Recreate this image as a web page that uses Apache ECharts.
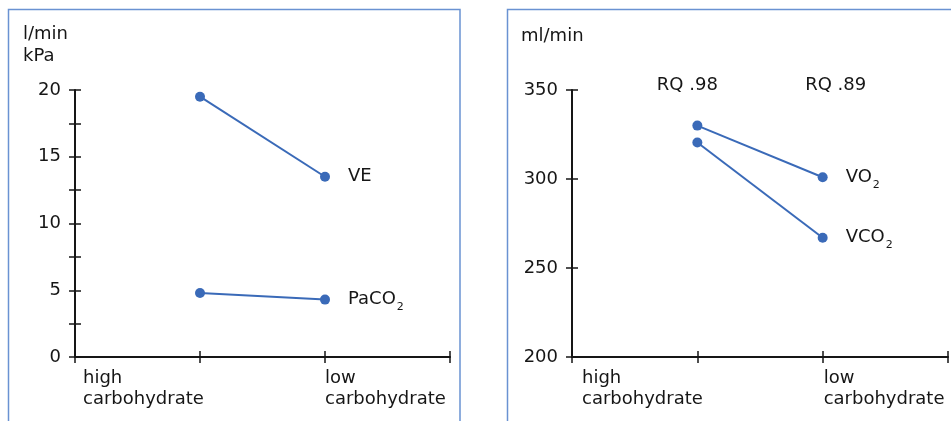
<!DOCTYPE html>
<html>
<head>
<meta charset="utf-8">
<script src="https://cdn.jsdelivr.net/npm/echarts@6/dist/echarts.min.js"></script>
<style>
  html, body { margin: 0; padding: 0; background: #fff; }
  #chart { width: 951px; height: 421px; }
</style>
</head>
<body>
<div id="chart"></div>
<script>
// x positions of the two diets on a 0..3 value axis
const dietX = [1, 2]
const dietLabels = { 0: 'high\ncarbohydrate', 2: 'low\ncarbohydrate' }

// left panel: l/min and kPa
const veValues = [19.5, 13.5]
const paco2Values = [4.8, 4.3]
const leftTicks = { min: 0, max: 20, interval: 5 }

// right panel: ml/min
const vo2Values = [330, 301]
const vco2Values = [320.5, 267]
const rightTicks = { min: 200, max: 350, interval: 50 }
const rqLabels = ['RQ .98', 'RQ .89']

const FONT = 'DejaVu Sans'
const TEXT = '#161616'
const BLUE = '#3a6ab8'
const FS = 18

const chart = echarts.init(document.getElementById('chart'), null, { renderer: 'canvas' })

const grids = [
	{ left: 75, top: 90, width: 375, height: 267 },
	{ left: 572, top: 90, width: 376, height: 267 }
]

function xAxes(gridIndex, pad) {
	const base = {
		gridIndex,
		type: 'value',
		position: 'bottom',
		min: 0,
		max: 3,
		interval: 1,
		splitLine: { show: false }
	}
	return [
		Object.assign({}, base, {
			axisLine: { onZero: false, lineStyle: { color: TEXT, width: 2 } },
			axisTick: { show: true, length: 6, lineStyle: { color: TEXT, width: 1.5 } },
			axisLabel: {
				show: true,
				margin: 11,
				align: 'left',
				verticalAlign: 'top',
				formatter: v => dietLabels[v] ? (v === 0 ? '{h|' : '{l|') + dietLabels[v] + '}' : '',
				rich: {
					h: { fontFamily: FONT, fontSize: FS, color: TEXT, lineHeight: 21, padding: [0, 0, 0, pad[0]] },
					l: { fontFamily: FONT, fontSize: FS, color: TEXT, lineHeight: 21, padding: [0, 0, 0, pad[1]] }
				}
			}
		}),
		Object.assign({}, base, {
			axisLine: { show: false, onZero: false },
			axisTick: { show: true, inside: true, length: 6, lineStyle: { color: TEXT, width: 1.5 } },
			axisLabel: { show: false }
		})
	]
}

function yAxes(gridIndex, ticks, minor) {
	const base = Object.assign({ gridIndex, type: 'value', position: 'left', splitLine: { show: false } }, ticks)
	return [
		Object.assign({}, base, {
			axisLine: { show: true, lineStyle: { color: TEXT, width: 2 } },
			axisTick: { show: true, length: 6, lineStyle: { color: TEXT, width: 1.5 } },
			minorTick: { show: minor, splitNumber: 2, length: 6, lineStyle: { color: TEXT, width: 1.5 } },
			axisLabel: { margin: 14, fontFamily: FONT, fontSize: FS, color: TEXT }
		}),
		Object.assign({}, base, {
			axisLine: { show: false },
			axisTick: { show: true, inside: true, length: 6, lineStyle: { color: TEXT, width: 1.5 } },
			minorTick: { show: minor, splitNumber: 2, length: 6, lineStyle: { color: TEXT, width: 1.5 } },
			axisLabel: { show: false }
		})
	]
}

const labelRich = {
	m: { fontFamily: FONT, fontSize: FS, color: TEXT, lineHeight: 26, verticalAlign: 'middle' },
	s: { fontFamily: FONT, fontSize: 11, color: TEXT, lineHeight: 11, verticalAlign: 'bottom', padding: [0, 0, 0, 1] }
}

function lineSeries(name, text, values, xi, yi) {
	return {
		name,
		type: 'line',
		xAxisIndex: xi,
		yAxisIndex: yi,
		data: values.map((v, i) => ({
			value: [dietX[i], v],
			label: { show: i === values.length - 1 }
		})),
		symbol: 'circle',
		symbolSize: 10,
		lineStyle: { color: BLUE, width: 2 },
		itemStyle: { color: BLUE },
		label: {
			position: 'right',
			distance: 18,
			formatter: text,
			rich: labelRich
		},
		emphasis: { disabled: true },
		animation: false
	}
}

const option = {
	backgroundColor: '#fff',
	animation: false,
	grid: grids,
	xAxis: [...xAxes(0, [8, 0]), ...xAxes(1, [10, 1])],
	yAxis: [...yAxes(0, leftTicks, true), ...yAxes(1, rightTicks, false)],
	series: [
		lineSeries('VE', '{m|VE}', veValues, 0, 0),
		lineSeries('PaCO2', '{m|PaCO}{s|2}', paco2Values, 0, 0),
		lineSeries('VO2', '{m|VO}{s|2}', vo2Values, 2, 2),
		lineSeries('VCO2', '{m|VCO}{s|2}', vco2Values, 2, 2)
	]
}

chart.setOption(option)

// frames, unit names and RQ notes, placed from the axes
const leftTop = chart.convertToPixel({ xAxisIndex: 0, yAxisIndex: 0 }, [0, leftTicks.max])
const rightTop = chart.convertToPixel({ xAxisIndex: 2, yAxisIndex: 2 }, [0, rightTicks.max])
const rqPos = dietX.map(x => chart.convertToPixel({ xAxisIndex: 2, yAxisIndex: 2 }, [x, rightTicks.max]))
const rqShift = [-10, 13]

const textStyle = { fontFamily: FONT, fontSize: FS, fill: TEXT }

chart.setOption({
	graphic: [
		{ type: 'rect', shape: { x: 8.5, y: 9.5, width: 451.5, height: 440 }, style: { fill: 'none', stroke: '#6a92d2', lineWidth: 1.5 }, silent: true },
		{ type: 'rect', shape: { x: 507.5, y: 9.5, width: 460, height: 440 }, style: { fill: 'none', stroke: '#6a92d2', lineWidth: 1.5 }, silent: true },
		{ type: 'text', x: leftTop[0] - 52, y: leftTop[1] - 67, style: Object.assign({ text: 'l/min\nkPa', lineHeight: 22 }, textStyle) },
		{ type: 'text', x: rightTop[0] - 51, y: rightTop[1] - 65, style: Object.assign({ text: 'ml/min', lineHeight: 22 }, textStyle) },
		...rqLabels.map((t, i) => ({
			type: 'text',
			x: rqPos[i][0] + rqShift[i],
			y: rqPos[i][1] - 5,
			style: Object.assign({ text: t, align: 'center', verticalAlign: 'middle' }, textStyle)
		}))
	]
})
</script>
</body>
</html>
